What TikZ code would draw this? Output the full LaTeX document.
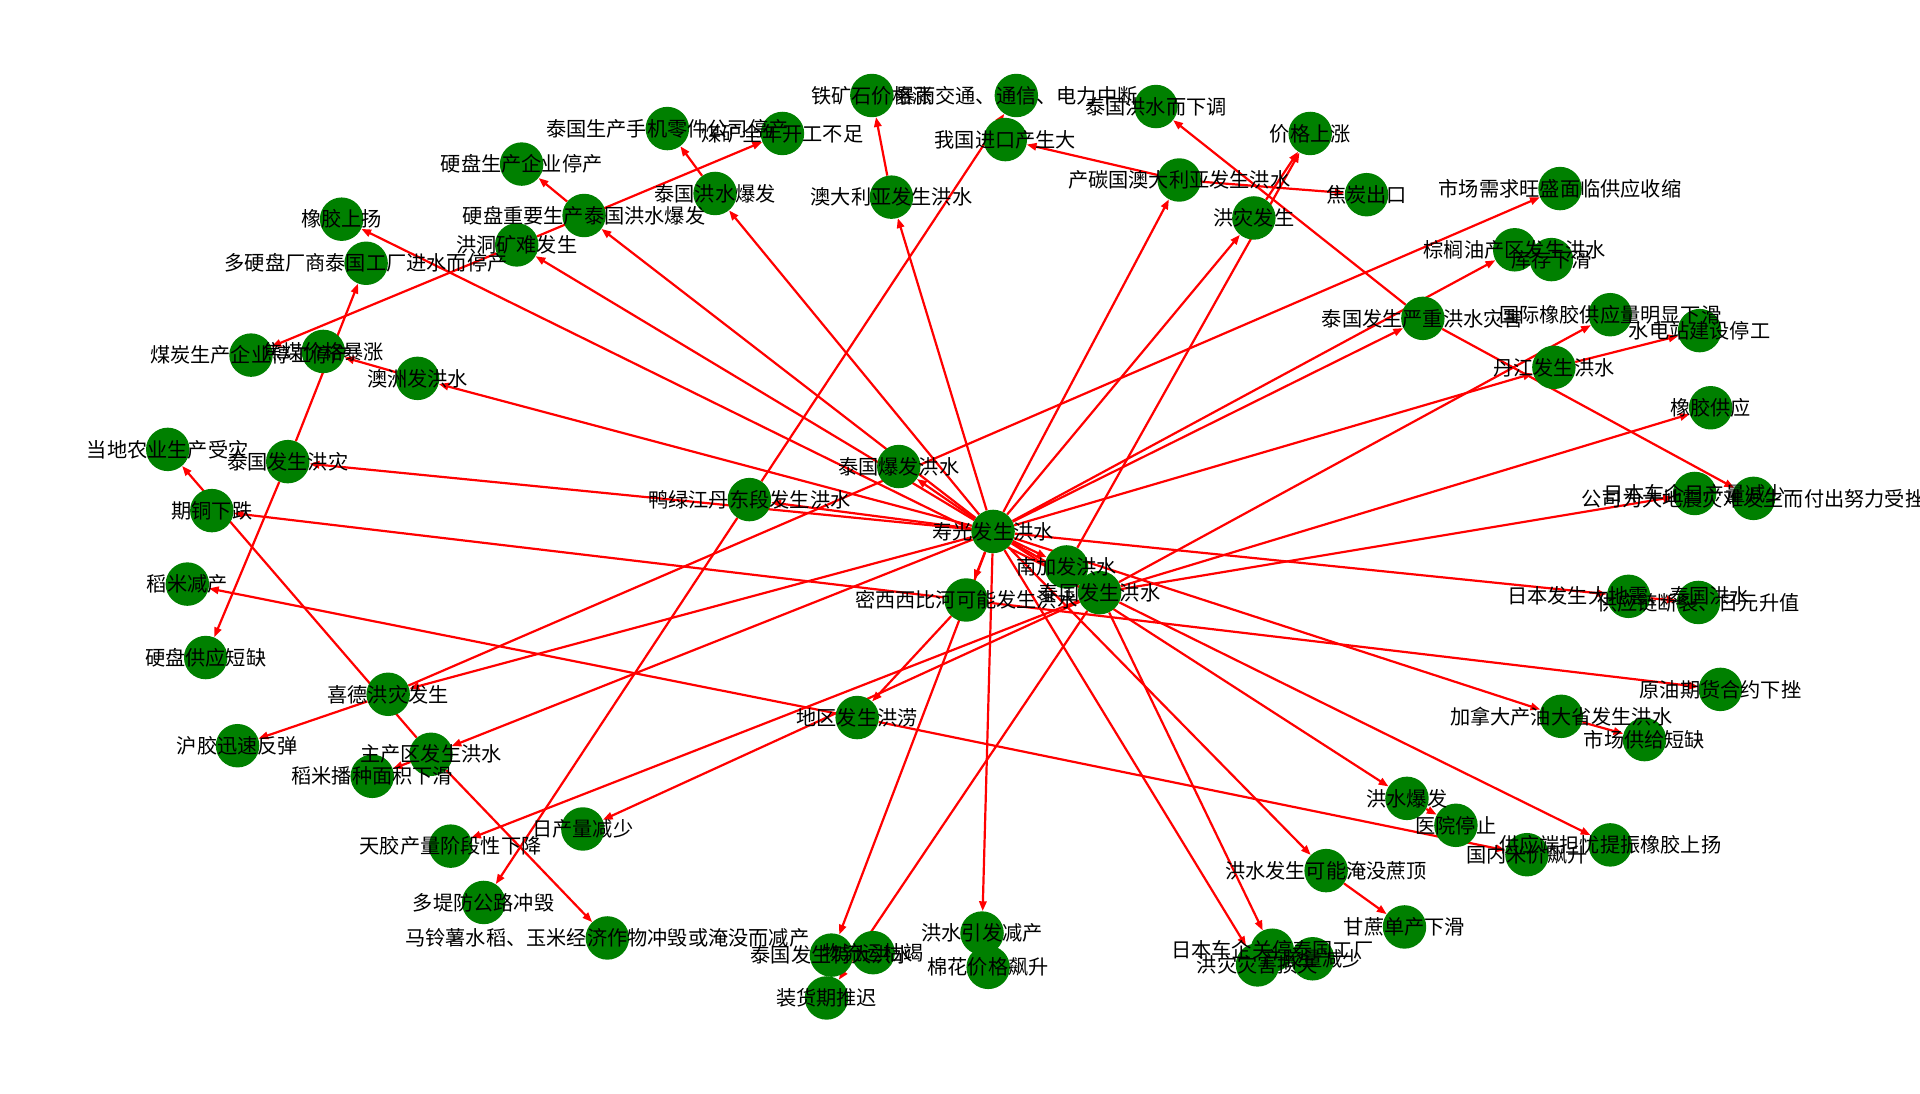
\documentclass[tikz,border=0pt]{standalone}
\usepackage{fontspec}
\newfontfamily\cjkfont{Noto Sans CJK SC}
\usepackage{tikz}
\usetikzlibrary{arrows.meta,backgrounds}

\begin{document}
\begin{tikzpicture}[x=1pt,y=-1pt,
    gnode/.style={circle,fill=green!50!black,minimum size=35.5pt,inner sep=0pt},
    lbl/.style={font=\cjkfont\fontsize{16.5pt}{18pt}\selectfont,inner sep=0pt},
    arr/.style={red,line width=1.8pt,-{Triangle[length=8pt,width=6pt]}}]
            \useasboundingbox (0,0) rectangle (1568,893);
            \node[gnode] (tkj) at (712,78){};
            \node[gnode] (byjt) at (830,78){};
            \node[gnode] (tgxt) at (944,87){};
            \node[gnode] (jgsz) at (1070,109){};
            \node[gnode] (jtck) at (1116,159){};
            \node[gnode] (hzfs) at (1024,178){};
            \node[gnode] (ctgadly) at (963,147){};
            \node[gnode] (wgjk) at (821,114){};
            \node[gnode] (adlyfs) at (728,161){};
            \node[gnode] (tghsbf) at (584,158){};
            \node[gnode] (mkkg) at (639,109){};
            \node[gnode] (sjlj) at (545,105){};
            \node[gnode] (ypsc) at (426,134){};
            \node[gnode] (ypzy) at (477,176){};
            \node[gnode] (hdkn) at (422,200){};
            \node[gnode] (xjsy) at (279,179){};
            \node[gnode] (dypcs) at (299,215){};
            \node[gnode] (mtsc) at (205,290){};
            \node[gnode] (jmjg) at (264,287){};
            \node[gnode] (azfhs) at (341,309){};
            \node[gnode] (ddny) at (137,367){};
            \node[gnode] (tgfshz) at (235,377){};
            \node[gnode] (qtxd) at (173,417){};
            \node[gnode] (dmjc) at (153,477){};
            \node[gnode] (ypgy) at (168,537){};
            \node[gnode] (xdhz) at (317,567){};
            \node[gnode] (hjft) at (194,609){};
            \node[gnode] (zcq) at (352,616){};
            \node[gnode] (dmbz) at (304,634){};
            \node[gnode] (tjcl) at (368,691){};
            \node[gnode] (rcljs) at (476,677){};
            \node[gnode] (dtgl) at (395,737){};
            \node[gnode] (mls) at (496,766){};
            \node[gnode] (dqhl) at (700,586){};
            \node[gnode] (ylj) at (612,408){};
            \node[gnode] (tgbfhs) at (734,381){};
            \node[gnode] (sg) at (811,434){};
            \node[gnode] (nj) at (871,463){};
            \node[gnode] (mxxb) at (789,490){};
            \node[gnode] (tgfshs) at (898,484){};
            \node[gnode] (tgtd) at (679,780){};
            \node[gnode] (wlkj) at (713,778){};
            \node[gnode] (zhq) at (675,815){};
            \node[gnode] (hsyf) at (802,762){};
            \node[gnode] (mhjg) at (807,790){};
            \node[gnode] (rbcq) at (1039,776){};
            \node[gnode] (hzzh) at (1027,788){};
            \node[gnode] (cjl) at (1072,783){};
            \node[gnode] (hskn) at (1083,711){};
            \node[gnode] (gzdc) at (1147,757){};
            \node[gnode] (hsbf) at (1149,652){};
            \node[gnode] (yytz) at (1189,674){};
            \node[gnode] (gnmj) at (1247,698){};
            \node[gnode] (gydy) at (1315,690){};
            \node[gnode] (jnd) at (1275,585){};
            \node[gnode] (scgj) at (1343,604){};
            \node[gnode] (yyqh) at (1405,563){};
            \node[gnode] (rbdz) at (1330,487){};
            \node[gnode] (gyl) at (1387,492){};
            \node[gnode] (rbrc) at (1384,403){};
            \node[gnode] (gsw) at (1432,407){};
            \node[gnode] (xjgy) at (1397,333){};
            \node[gnode] (djfs) at (1269,300){};
            \node[gnode] (sdz) at (1388,270){};
            \node[gnode] (gjxj) at (1315,257){};
            \node[gnode] (tgyz) at (1162,260){};
            \node[gnode] (zly) at (1237,204){};
            \node[gnode] (kcxh) at (1267,212){};
            \node[gnode] (scxq) at (1274,154){};
            \begin{scope}[on background layer]
            \draw[arr] (adlyfs)--(tkj);
            \draw[arr] (ylj)--(byjt);
            \draw[arr] (ctgadly)--(wgjk);
            \draw[arr] (tgyz)--(tgxt);
            \draw[arr] (hzfs)--(jgsz);
            \draw[arr] (nj)--(jgsz);
            \draw[arr] (ctgadly)--(jtck);
            \draw[arr] (sg)--(hzfs);
            \draw[arr] (sg)--(ctgadly);
            \draw[arr] (sg)--(adlyfs);
            \draw[arr] (sg)--(tghsbf);
            \draw[arr] (tghsbf)--(sjlj);
            \draw[arr] (hdkn)--(mkkg);
            \draw[arr] (hdkn)--(mtsc);
            \draw[arr] (ypzy)--(ypsc);
            \draw[arr] (sg)--(ypzy);
            \draw[arr] (sg)--(hdkn);
            \draw[arr] (tgfshs)--(xjsy);
            \draw[arr] (tgfshz)--(dypcs);
            \draw[arr] (tgfshz)--(ypgy);
            \draw[arr] (azfhs)--(jmjg);
            \draw[arr] (sg)--(azfhs);
            \draw[arr] (zcq)--(ddny);
            \draw[arr] (zcq)--(mls);
            \draw[arr] (sg)--(tgfshz);
            \draw[arr] (mxxb)--(qtxd);
            \draw[arr] (dqhl)--(dmjc);
            \draw[arr] (dqhl)--(gnmj);
            \draw[arr] (xdhz)--(scxq);
            \draw[arr] (sg)--(xdhz);
            \draw[arr] (xdhz)--(hjft);
            \draw[arr] (sg)--(zcq);
            \draw[arr] (zcq)--(dmbz);
            \draw[arr] (tgfshs)--(tjcl);
            \draw[arr] (tgfshs)--(rcljs);
            \draw[arr] (ylj)--(dtgl);
            \draw[arr] (mxxb)--(dqhl);
            \draw[arr] (sg)--(tgtd);
            \draw[arr] (tgfshs)--(zhq);
            \draw[arr] (sg)--(hsyf);
            \draw[arr] (tgfshs)--(rbcq);
            \draw[arr] (sg)--(hzzh);
            \draw[arr] (sg)--(hskn);
            \draw[arr] (hskn)--(gzdc);
            \draw[arr] (sg)--(hsbf);
            \draw[arr] (hsbf)--(yytz);
            \draw[arr] (tgfshs)--(gydy);
            \draw[arr] (sg)--(jnd);
            \draw[arr] (jnd)--(scgj);
            \draw[arr] (mxxb)--(yyqh);
            \draw[arr] (sg)--(rbdz);
            \draw[arr] (rbdz)--(gyl);
            \draw[arr] (tgfshs)--(rbrc);
            \draw[arr] (tgyz)--(gsw);
            \draw[arr] (tgfshs)--(xjgy);
            \draw[arr] (sg)--(djfs);
            \draw[arr] (djfs)--(sdz);
            \draw[arr] (tgfshs)--(gjxj);
            \draw[arr] (sg)--(tgyz);
            \draw[arr] (sg)--(zly);
            \draw[arr] (sg)--(tgbfhs);
            \draw[arr] (sg)--(nj);
            \draw[arr] (sg)--(mxxb);
            \draw[arr] (sg)--(tgfshs);
            \draw[arr] (sg)--(ylj);
            \end{scope}
            \node[lbl] (tkj-t) at (tkj){铁矿石价格涨};
            \node[lbl] (byjt-t) at (byjt){暴雨交通、通信、电力中断};
            \node[lbl] (tgxt-t) at (tgxt){泰国洪水而下调};
            \node[lbl] (jgsz-t) at (jgsz){价格上涨};
            \node[lbl] (jtck-t) at (jtck){焦炭出口};
            \node[lbl] (hzfs-t) at (hzfs){洪灾发生};
            \node[lbl] (ctgadly-t) at (ctgadly){产碳国澳大利亚发生洪水};
            \node[lbl] (wgjk-t) at (wgjk){我国进口产生大};
            \node[lbl] (adlyfs-t) at (adlyfs){澳大利亚发生洪水};
            \node[lbl] (tghsbf-t) at (tghsbf){泰国洪水爆发};
            \node[lbl] (mkkg-t) at (mkkg){煤矿全年开工不足};
            \node[lbl] (sjlj-t) at (sjlj){泰国生产手机零件公司停产};
            \node[lbl] (ypsc-t) at (ypsc){硬盘生产企业停产};
            \node[lbl] (ypzy-t) at (ypzy){硬盘重要生产泰国洪水爆发};
            \node[lbl] (hdkn-t) at (hdkn){洪洞矿难发生};
            \node[lbl] (xjsy-t) at (xjsy){橡胶上扬};
            \node[lbl] (dypcs-t) at (dypcs){多硬盘厂商泰国工厂进水而停产};
            \node[lbl] (mtsc-t) at (mtsc){煤炭生产企业停工停产};
            \node[lbl] (jmjg-t) at (jmjg){焦煤价格暴涨};
            \node[lbl] (azfhs-t) at (azfhs){澳洲发洪水};
            \node[lbl] (ddny-t) at (ddny){当地农业生产受灾};
            \node[lbl] (tgfshz-t) at (tgfshz){泰国发生洪灾};
            \node[lbl] (qtxd-t) at (qtxd){期铜下跌};
            \node[lbl] (dmjc-t) at (dmjc){稻米减产};
            \node[lbl] (ypgy-t) at (ypgy){硬盘供应短缺};
            \node[lbl] (xdhz-t) at (xdhz){喜德洪灾发生};
            \node[lbl] (hjft-t) at (hjft){沪胶迅速反弹};
            \node[lbl] (zcq-t) at (zcq){主产区发生洪水};
            \node[lbl] (dmbz-t) at (dmbz){稻米播种面积下滑};
            \node[lbl] (tjcl-t) at (tjcl){天胶产量阶段性下降};
            \node[lbl] (rcljs-t) at (rcljs){日产量减少};
            \node[lbl] (dtgl-t) at (dtgl){多堤防公路冲毁};
            \node[lbl] (mls-t) at (mls){马铃薯水稻、玉米经济作物冲毁或淹没而减产};
            \node[lbl] (dqhl-t) at (dqhl){地区发生洪涝};
            \node[lbl] (ylj-t) at (ylj){鸭绿江丹东段发生洪水};
            \node[lbl] (tgbfhs-t) at (tgbfhs){泰国爆发洪水};
            \node[lbl] (sg-t) at (sg){寿光发生洪水};
            \node[lbl] (nj-t) at (nj){南加发洪水};
            \node[lbl] (mxxb-t) at (mxxb){密西西比河可能发生洪水};
            \node[lbl] (tgfshs-t) at (tgfshs){泰国发生洪水};
            \node[lbl] (tgtd-t) at (tgtd){泰国发生特大洪水};
            \node[lbl] (wlkj-t) at (wlkj){物流运枯竭};
            \node[lbl] (zhq-t) at (zhq){装货期推迟};
            \node[lbl] (hsyf-t) at (hsyf){洪水引发减产};
            \node[lbl] (mhjg-t) at (mhjg){棉花价格飙升};
            \node[lbl] (rbcq-t) at (rbcq){日本车企关停泰国工厂};
            \node[lbl] (hzzh-t) at (hzzh){洪灾灾害损失};
            \node[lbl] (cjl-t) at (cjl){产胶量减少};
            \node[lbl] (hskn-t) at (hskn){洪水发生可能淹没蔗顶};
            \node[lbl] (gzdc-t) at (gzdc){甘蔗单产下滑};
            \node[lbl] (hsbf-t) at (hsbf){洪水爆发};
            \node[lbl] (yytz-t) at (yytz){医院停止};
            \node[lbl] (gnmj-t) at (gnmj){国内米价飙升};
            \node[lbl] (gydy-t) at (gydy){供应端担忧提振橡胶上扬};
            \node[lbl] (jnd-t) at (jnd){加拿大产油大省发生洪水};
            \node[lbl] (scgj-t) at (scgj){市场供给短缺};
            \node[lbl] (yyqh-t) at (yyqh){原油期货合约下挫};
            \node[lbl] (rbdz-t) at (rbdz){日本发生大地震、泰国洪水};
            \node[lbl] (gyl-t) at (gyl){供应链断裂、日元升值};
            \node[lbl] (rbrc-t) at (rbrc){日本车企日产量减少};
            \node[lbl] (gsw-t) at (gsw){公司为大地震灾难发生而付出努力受挫};
            \node[lbl] (xjgy-t) at (xjgy){橡胶供应};
            \node[lbl] (djfs-t) at (djfs){丹江发生洪水};
            \node[lbl] (sdz-t) at (sdz){水电站建设停工};
            \node[lbl] (gjxj-t) at (gjxj){国际橡胶供应量明显下滑};
            \node[lbl] (tgyz-t) at (tgyz){泰国发生严重洪水灾害};
            \node[lbl] (zly-t) at (zly){棕榈油产区发生洪水};
            \node[lbl] (kcxh-t) at (kcxh){库存下滑};
            \node[lbl] (scxq-t) at (scxq){市场需求旺盛面临供应收缩};
        \end{tikzpicture}
\end{document}
